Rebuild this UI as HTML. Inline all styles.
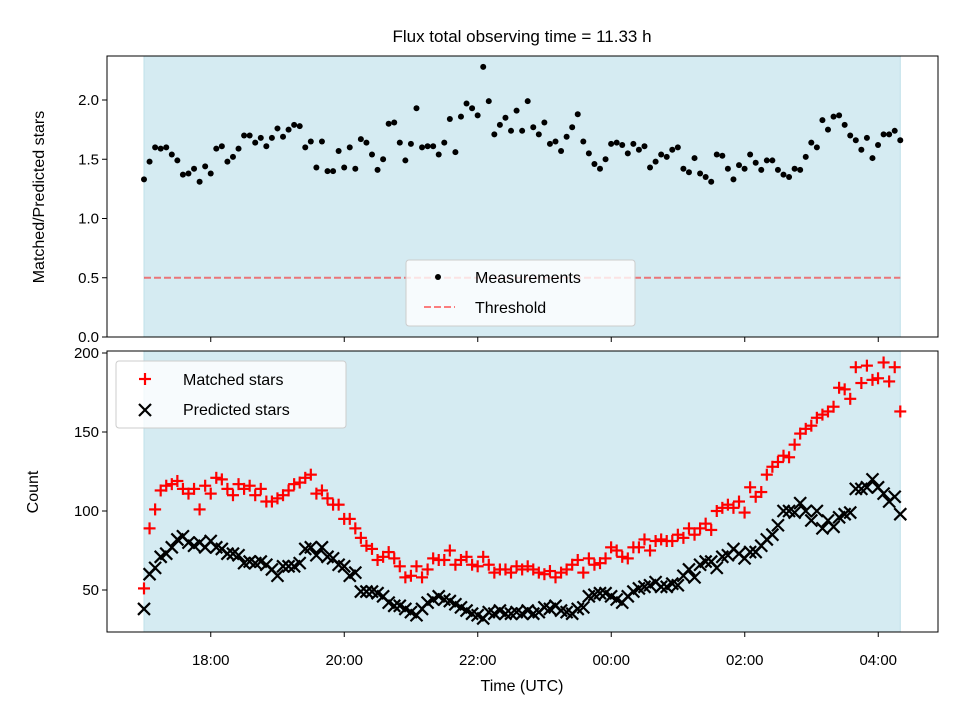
<!DOCTYPE html>
<html><head><meta charset="utf-8">
<style>
body{margin:0;background:#fff;}
svg text{font-family:"Liberation Sans","DejaVu Sans",sans-serif;fill:#000;}
</style></head>
<body>
<svg id="chart" width="960" height="720" viewBox="0 0 960 720" xmlns="http://www.w3.org/2000/svg">
<rect width="960" height="720" fill="#fff"/>
<text x="522" y="42" font-size="17" text-anchor="middle">Flux total observing time = 11.33 h</text>
<g id="top"></g>
<g id="bot"></g>
</svg>
<script>
const ratioValues=[1.33,1.48,1.60,1.59,1.60,1.54,1.49,1.37,1.38,1.42,1.31,1.44,1.38,1.59,1.61,1.48,1.52,1.59,1.70,1.70,1.64,1.68,1.61,1.68,1.76,1.69,1.75,1.79,1.78,1.60,1.65,1.43,1.65,1.40,1.40,1.57,
1.43,1.60,1.42,1.67,1.64,1.54,1.41,1.50,1.80,1.81,1.64,1.49,1.63,1.93,1.60,1.61,1.61,1.54,1.64,1.84,1.56,1.86,1.97,1.93,1.87,2.28,1.99,1.71,1.79,1.85,1.74,1.91,1.74,1.99,
1.77,1.71,1.81,1.63,1.65,1.57,1.69,1.77,1.88,1.65,1.55,1.46,1.42,1.50,1.63,1.64,1.62,1.55,1.63,1.58,1.61,1.43,1.48,1.54,1.52,1.58,1.60,1.42,1.39,1.51,1.38,1.35,1.31,1.54,
1.53,1.42,1.33,1.45,1.42,1.54,1.47,1.41,1.49,1.49,1.41,1.37,1.35,1.42,1.41,1.52,1.64,1.60,1.83,1.75,1.86,1.87,1.79,1.70,1.66,1.58,1.68,1.51,1.62,1.71,1.71,1.74,1.66];
const matchedValues=[51,89,101,113,116,117,119,114,111,114,101,116,111,121,120,114,110,117,114,116,110,114,106,106,108,110,113,117,118,121,123,111,113,108,104,
104,95,95,89,83,78,76,69,71,74,70,65,58,59,65,58,63,70,69,69,75,66,69,71,66,65,71,66,61,63,63,61,65,63,
65,63,61,60,62,58,61,63,66,69,61,70,66,67,70,77,75,71,70,77,77,82,75,81,82,81,81,85,83,89,85,89,92,88,100,
102,104,102,106,99,115,109,112,123,128,131,135,134,142,149,152,154,159,161,163,166,178,177,171,191,181,192,183,184,194,182,191,163];
const predictedValues=[38,60,64,71,73,77,82,84,80,78,80,77,81,77,76,73,73,72,67,68,67,68,66,63,59,65,65,65,67,76,77,72,77,71,70,
66,65,59,61,49,49,49,48,46,42,40,40,38,36,34,38,42,44,46,44,43,41,39,37,35,34,32,36,35,37,35,35,36,35,
37,35,36,39,38,40,37,36,35,38,39,46,47,48,48,46,44,42,46,49,51,52,53,55,52,52,54,53,59,63,58,66,68,68,64,
71,72,76,73,70,74,74,78,82,85,91,100,100,99,105,100,94,100,89,94,90,96,98,99,114,114,115,120,115,111,106,109,98];
const topYTicks=[0.0,0.5,1.0,1.5,2.0];
const botYTicks=[50,100,150,200];
const xTickHours=[18,20,22,24,26,28];
const xTickLabels=["18:00","20:00","22:00","00:00","02:00","04:00"];
const thresholdValue=0.5;
const startHour=17.0, durationHours=11.33;

const NS="http://www.w3.org/2000/svg";
const L=107,R=938;
const hx=h=>144+(h-17)*66.75;
const yTop=v=>337-v*118.5;
const yBot=v=>590-(v-50)*1.58;
function mk(p,tag,attrs){const e=document.createElementNS(NS,tag);for(const k in attrs)e.setAttribute(k,attrs[k]);p.appendChild(e);return e;}
function tAt(i,n){return startHour+durationHours*i/(n-1);}

function frame(g,y0,y1,name){
  const s=mk(g,'rect',{x:hx(startHour),y:y0,width:hx(startHour+durationHours)-hx(startHour),height:y1-y0,fill:'#d5ebf2',stroke:'#bfe0ea','stroke-width':1});
  
  
  xTickHours.forEach((h,i)=>{const t=mk(g,'line',{x1:hx(h),x2:hx(h),y1:y1,y2:y1+5,stroke:'#000','stroke-width':1});
    
    });
}
function border(g,y0,y1,name){
  const b=mk(g,'rect',{x:L,y:y0,width:R-L,height:y1-y0,fill:'none',stroke:'#000','stroke-width':1});
  
  
}
// TOP
const gt=document.getElementById('top');
frame(gt,56,337,'top');
topYTicks.forEach(v=>{
  const t=mk(gt,'line',{x1:L-5,x2:L,y1:yTop(v),y2:yTop(v),stroke:'#000'});
  
  
  const tx=mk(gt,'text',{x:L-8,y:yTop(v)+5,'font-size':15,'text-anchor':'end'});tx.textContent=v.toFixed(1);
  
  
});
const th=mk(gt,'line',{x1:hx(startHour),x2:hx(startHour+durationHours),y1:yTop(thresholdValue),y2:yTop(thresholdValue),stroke:'rgba(255,0,0,0.5)','stroke-width':2,'stroke-dasharray':'7,3'});


ratioValues.forEach((v,i)=>{const c=mk(gt,'circle',{cx:hx(tAt(i,ratioValues.length)),cy:yTop(v),r:3,fill:'#000'});
  
  });
border(gt,56,337,'top');
const yl1=mk(gt,'text',{x:44,y:197,'font-size':16,'text-anchor':'middle',transform:'rotate(-90 44 197)'});yl1.textContent='Matched/Predicted stars';


// top legend
const lg1=mk(gt,'g',{});


mk(lg1,'rect',{x:406,y:260,width:229,height:66,rx:3,fill:'rgba(255,255,255,0.8)',stroke:'#ccc'});
mk(lg1,'circle',{cx:438,cy:277,r:3,fill:'#000'});
const lt1=mk(lg1,'text',{x:475,y:283,'font-size':16});lt1.textContent='Measurements';
mk(lg1,'line',{x1:424,x2:455,y1:307,y2:307,stroke:'rgba(255,0,0,0.5)','stroke-width':2,'stroke-dasharray':'7,3'});
const lt2=mk(lg1,'text',{x:475,y:313,'font-size':16});lt2.textContent='Threshold';

// BOTTOM
const gb=document.getElementById('bot');
frame(gb,351,632,'bottom');
botYTicks.forEach(v=>{
  const t=mk(gb,'line',{x1:L-5,x2:L,y1:yBot(v),y2:yBot(v),stroke:'#000'});
  
  
  const tx=mk(gb,'text',{x:L-8,y:yBot(v)+5,'font-size':15,'text-anchor':'end'});tx.textContent=v;
  
  
});
xTickHours.forEach((h,i)=>{const tx=mk(gb,'text',{x:hx(h),y:665,'font-size':15,'text-anchor':'middle'});tx.textContent=xTickLabels[i];
  
  });
function plus(p,x,y,col){const g=mk(p,'g',{stroke:col,'stroke-width':2.2});mk(g,'line',{x1:x-6,x2:x+6,y1:y,y2:y});mk(g,'line',{x1:x,x2:x,y1:y-6,y2:y+6});return g;}
function cross(p,x,y,col){const g=mk(p,'g',{stroke:col,'stroke-width':2.2});mk(g,'line',{x1:x-6,x2:x+6,y1:y-6,y2:y+6});mk(g,'line',{x1:x-6,x2:x+6,y1:y+6,y2:y-6});return g;}
matchedValues.forEach((v,i)=>{const m=plus(gb,hx(tAt(i,matchedValues.length)),yBot(v),'#f00');
  
  });
predictedValues.forEach((v,i)=>{const m=cross(gb,hx(tAt(i,predictedValues.length)),yBot(v),'#000');
  
  });
border(gb,351,632,'bottom');
const yl2=mk(gb,'text',{x:38,y:492,'font-size':16,'text-anchor':'middle',transform:'rotate(-90 38 492)'});yl2.textContent='Count';


const xl=mk(gb,'text',{x:522,y:691,'font-size':16,'text-anchor':'middle'});xl.textContent='Time (UTC)';


const lg2=mk(gb,'g',{});


mk(lg2,'rect',{x:116,y:361,width:230,height:67,rx:3,fill:'rgba(255,255,255,0.8)',stroke:'#ccc'});
plus(lg2,145,379,'#f00');
const lt3=mk(lg2,'text',{x:183,y:385,'font-size':16});lt3.textContent='Matched stars';
cross(lg2,145,410,'#000');
const lt4=mk(lg2,'text',{x:183,y:415,'font-size':16});lt4.textContent='Predicted stars';
</script>
</body></html>
